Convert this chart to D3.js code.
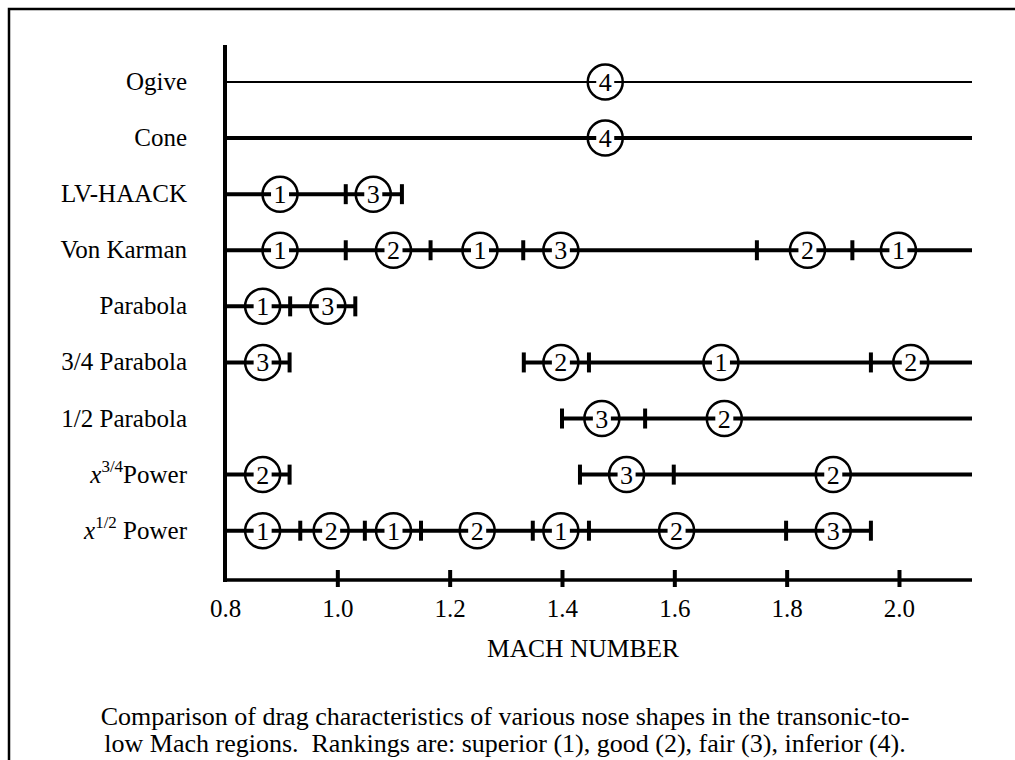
<!DOCTYPE html>
<html>
<head>
<meta charset="utf-8">
<script src="https://cdn.jsdelivr.net/npm/d3@7"></script>
<style>
  body { margin: 0; background: #fff; }
  svg { display: block; }
  svg text { font-family: "Liberation Serif", "Times New Roman", Times, serif; }
</style>
</head>
<body>
<div id="chart"></div>
<script>
// Nose shapes, top to bottom
const shapes = ["Ogive", "Cone", "LV-HAACK", "Von Karman", "Parabola",
    "3/4 Parabola", "1/2 Parabola", "x3/4", "x1/2"];

// Mach ranges covered by each shape (start, end)
const segments = [
    [[0.8, 2.13]],
    [[0.8, 2.13]],
    [[0.8, 1.115]],
    [[0.8, 2.13]],
    [[0.8, 1.032]],
    [[0.8, 0.915], [1.332, 2.13]],
    [[1.40, 2.13]],
    [[0.8, 0.915], [1.432, 2.13]],
    [[0.8, 1.95]]
];

// Boundaries between ranking regions
const boundaries = [
    [],
    [],
    [1.015, 1.115],
    [1.015, 1.166, 1.331, 1.747, 1.917],
    [0.916, 1.032],
    [0.915, 1.332, 1.448, 1.950],
    [1.40, 1.548],
    [0.915, 1.432, 1.599],
    [0.934, 1.049, 1.149, 1.348, 1.448, 1.799, 1.95]
];

// Ranking circles: where they sit and what rank
const rankMach = [
    [1.477],
    [1.477],
    [0.898, 1.064],
    [0.898, 1.10, 1.254, 1.398, 1.837, 1.999],
    [0.867, 0.983],
    [0.867, 1.398, 1.683, 2.021],
    [1.471, 1.689],
    [0.867, 1.515, 1.883],
    [0.867, 0.989, 1.10, 1.249, 1.398, 1.604, 1.883]
];
const rankValue = [
    [4],
    [4],
    [1, 3],
    [1, 2, 1, 3, 2, 1],
    [1, 3],
    [3, 2, 1, 2],
    [3, 2],
    [2, 3, 2],
    [1, 2, 1, 2, 1, 2, 3]
];

const machTicks = [0.8, 1.0, 1.2, 1.4, 1.6, 1.8, 2.0];
const xLabel = "MACH NUMBER";
const caption = [
    "Comparison of drag characteristics of various nose shapes in the transonic-to-",
    "low Mach regions.\u00A0 Rankings are: superior (1), good (2), fair (3), inferior (4)."
];

const width = 1015, height = 760;
const axisY = 580;

const svg = d3.select("#chart").append("svg")
    .attr("width", width)
    .attr("height", height);

// outer frame (runs off the page on right and bottom)
svg.append("rect")
    .attr("x", 9).attr("y", 9)
    .attr("width", 1100).attr("height", 900)
    .attr("fill", "none")
    .attr("stroke", "#000")
    .attr("stroke-width", 2.5);

const x = d3.scaleLinear()
    .domain([0.8, 2.13])
    .range([225, 972]);

const y = d3.scalePoint()
    .domain(shapes)
    .range([82, 530.7]);

// rows
shapes.forEach((s, i) => {
    const row = svg.append("g");
    const yy = y(s);
    const sw = i === 0 ? 2 : 4;

    segments[i].forEach(seg => {
        row.append("line")
            .attr("x1", x(seg[0])).attr("x2", x(seg[1]))
            .attr("y1", yy).attr("y2", yy)
            .attr("stroke", "#000")
            .attr("stroke-width", sw);
    });

    boundaries[i].forEach(b => {
        row.append("line")
            .attr("x1", x(b)).attr("x2", x(b))
            .attr("y1", yy - 10).attr("y2", yy + 10)
            .attr("stroke", "#000")
            .attr("stroke-width", 4);
    });

    rankMach[i].forEach((m, j) => {
        const cx = x(m);
        row.append("rect")
            .attr("x", cx - 9).attr("y", yy - 12)
            .attr("width", 18).attr("height", 24)
            .attr("fill", "#fff");
        row.append("circle")
            .attr("cx", cx).attr("cy", yy)
            .attr("r", 17.5)
            .attr("fill", "none")
            .attr("stroke", "#000")
            .attr("stroke-width", 2.5);
        row.append("text")
            .attr("x", cx).attr("y", yy + 9)
            .attr("text-anchor", "middle")
            .style("font-size", "26px")
            .text(rankValue[i][j]);
    });

    // label
    const lbl = svg.append("text")
        .attr("x", 187)
        .attr("y", yy + 8)
        .attr("text-anchor", "end")
        .style("font-size", "25px");
    if (s.startsWith("x")) {
        lbl.append("tspan").style("font-style", "italic").text("x");
        lbl.append("tspan")
            .attr("dy", -11)
            .style("font-size", "17px")
            .text(s.slice(1));
        lbl.append("tspan")
            .attr("dy", 11)
            .text(s === "x3/4" ? "Power" : "\u00A0Power");
    } else {
        lbl.text(s);
    }
});

// x axis
const xAxis = svg.append("g")
    .attr("transform", `translate(0,${axisY})`)
    .call(d3.axisBottom(x).tickValues(machTicks).tickFormat(d3.format(".1f")).tickSizeOuter(0));
xAxis.select(".domain").remove();
xAxis.append("line")
    .attr("x1", x(0.8) - 2).attr("x2", x(2.13))
    .attr("stroke", "#000")
    .attr("stroke-width", 3.5);
xAxis.selectAll(".tick line")
    .attr("y1", -10).attr("y2", 7)
    .attr("stroke-width", 4)
    .attr("display", d => d === 0.8 ? "none" : null);
xAxis.selectAll(".tick text")
    .attr("y", 37).attr("dy", null)
    .attr("fill", "#000")
    .style("font-size", "25px");

// y axis line
svg.append("line")
    .attr("x1", x(0.8)).attr("x2", x(0.8))
    .attr("y1", 45).attr("y2", axisY + 2)
    .attr("stroke", "#000")
    .attr("stroke-width", 4);

// axis title
svg.append("text")
    .attr("x", 583).attr("y", 657)
    .attr("text-anchor", "middle")
    .style("font-size", "25.5px")
    .text(xLabel);

// caption
caption.forEach((c, i) => {
    svg.append("text")
        .attr("x", 505).attr("y", 725 + i * 27)
        .attr("text-anchor", "middle")
        .style("font-size", "26px")
        .text(c);
});
</script>
</body>
</html>
